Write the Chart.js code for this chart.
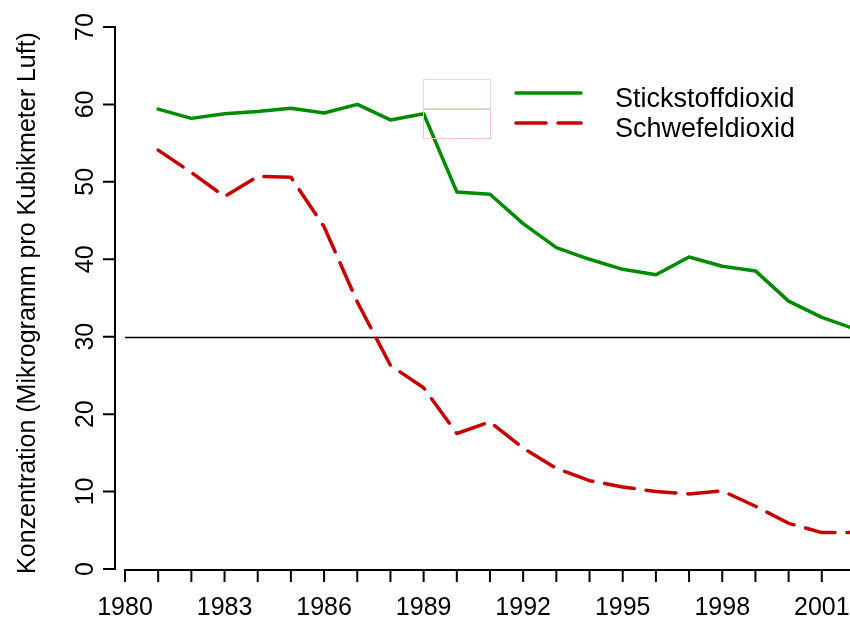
<!DOCTYPE html>
<html>
<head>
<meta charset="utf-8">
<script src="https://cdn.jsdelivr.net/npm/chart.js@4.4.1/dist/chart.umd.min.js"></script>
<style>
  html, body { margin: 0; padding: 0; background: #fff; }
  #wrap { width: 850px; height: 619px; position: relative; }
</style>
</head>
<body>
<div id="wrap"><canvas id="chart"></canvas></div>
<script>
const years = [1981, 1982, 1983, 1984, 1985, 1986, 1987, 1988, 1989, 1990, 1991,
               1992, 1993, 1994, 1995, 1996, 1997, 1998, 1999, 2000, 2001, 2002];
const no2 = [59.4, 58.2, 58.8, 59.1, 59.5, 58.9, 60.0, 58.0, 58.8, 48.7, 48.4,
             44.6, 41.5, 40.0, 38.7, 38.0, 40.3, 39.1, 38.5, 34.6, 32.5, 31.0];
const so2 = [54.1, 51.2, 48.1, 50.7, 50.6, 44.2, 34.5, 26.3, 23.4, 17.5, 19.0,
             15.6, 13.0, 11.4, 10.6, 10.0, 9.7, 10.1, 8.1, 5.9, 4.7, 4.7];
const seriesNames = ['Stickstoffdioxid', 'Schwefeldioxid'];
const yTicks = [0, 10, 20, 30, 40, 50, 60, 70];
const xTickYears = [1980, 1981, 1982, 1983, 1984, 1985, 1986, 1987, 1988, 1989, 1990, 1991,
                    1992, 1993, 1994, 1995, 1996, 1997, 1998, 1999, 2000, 2001, 2002];
const xLabels = [1980, 1983, 1986, 1989, 1992, 1995, 1998, 2001];
const refLine = 30;
const yTitle = 'Konzentration (Mikrogramm pro Kubikmeter Luft)';

const GREEN = '#008a00';
const RED = '#c80000';
const FONT = 'Arial, "Liberation Sans", sans-serif';

// Achsen im R-Stil, Referenzlinie und Legende
const rAxes = {
    id: 'rAxes',
    beforeDatasetsDraw(chart) {
        const ctx = chart.ctx;
        const y = chart.scales.y;
        const area = chart.chartArea;
        ctx.save();
        ctx.strokeStyle = '#000';
        ctx.lineWidth = 1.5;
        const py = Math.round(y.getPixelForValue(refLine)) + 0.5;
        ctx.beginPath();
        ctx.moveTo(area.left, py);
        ctx.lineTo(chart.width, py);
        ctx.stroke();
        ctx.restore();
    },
    afterDraw(chart) {
        const ctx = chart.ctx;
        const x = chart.scales.x, y = chart.scales.y;
        ctx.save();
        ctx.strokeStyle = '#000';
        ctx.fillStyle = '#000';
        ctx.lineWidth = 2;
        ctx.lineCap = 'butt';

        // y-Achse
        const ax = 115;
        ctx.beginPath();
        ctx.moveTo(ax, y.getPixelForValue(yTicks[0]));
        ctx.lineTo(ax, y.getPixelForValue(yTicks[yTicks.length - 1]));
        yTicks.forEach(v => {
            const p = y.getPixelForValue(v);
            ctx.moveTo(ax + 1, p);
            ctx.lineTo(ax - 12, p);
        });
        ctx.stroke();

        ctx.font = '25px ' + FONT;
        ctx.textAlign = 'center';
        ctx.textBaseline = 'middle';
        yTicks.forEach(v => {
            ctx.save();
            ctx.translate(86, y.getPixelForValue(v));
            ctx.rotate(-Math.PI / 2);
            ctx.fillText(String(v), 0, 0);
            ctx.restore();
        });

        // x-Achse
        const ay = y.getPixelForValue(0) + 1;
        ctx.beginPath();
        ctx.moveTo(x.getPixelForValue(xTickYears[0]), ay);
        ctx.lineTo(chart.width, ay);
        xTickYears.forEach(v => {
            const p = x.getPixelForValue(v);
            ctx.moveTo(p, ay - 1);
            ctx.lineTo(p, ay + 12);
        });
        ctx.stroke();

        ctx.textBaseline = 'alphabetic';
        xLabels.forEach(v => {
            ctx.fillText(String(v), x.getPixelForValue(v), 615);
        });

        // Achsentitel
        ctx.font = '25px ' + FONT;
        ctx.save();
        ctx.translate(28, 303);
        ctx.rotate(-Math.PI / 2);
        ctx.textBaseline = 'middle';
        ctx.fillText(yTitle, 0, 0);
        ctx.restore();

        // Legende
        ctx.lineWidth = 1;
        ctx.strokeStyle = '#cde6cd';
        ctx.strokeRect(423.5, 79.5, 67, 29);
        ctx.strokeStyle = '#f6c4c4';
        ctx.strokeRect(423.5, 109.5, 67, 29);

        ctx.lineCap = 'round';
        ctx.lineWidth = 3.5;
        ctx.strokeStyle = GREEN;
        ctx.beginPath();
        ctx.moveTo(516, 93);
        ctx.lineTo(581, 93);
        ctx.stroke();
        ctx.strokeStyle = RED;
        ctx.setLineDash([30, 12]);
        ctx.beginPath();
        ctx.moveTo(516, 123);
        ctx.lineTo(581, 123);
        ctx.stroke();
        ctx.setLineDash([]);

        ctx.font = '27px ' + FONT;
        ctx.textAlign = 'left';
        ctx.fillText(seriesNames[0], 615, 107);
        ctx.fillText(seriesNames[1], 615, 137);
        ctx.restore();
    }
};

new Chart(document.getElementById('chart'), {
    type: 'line',
    data: {
        datasets: [{
            label: seriesNames[0],
            data: years.map((yr, i) => ({ x: yr, y: no2[i] })),
            borderColor: GREEN,
            borderWidth: 3.5,
            borderCapStyle: 'round',
            borderJoinStyle: 'round',
            pointRadius: 0,
            tension: 0,
            fill: false
        }, {
            label: seriesNames[1],
            data: years.map((yr, i) => ({ x: yr, y: so2[i] })),
            borderColor: RED,
            borderWidth: 3.5,
            borderDash: [30, 12],
            borderCapStyle: 'round',
            borderJoinStyle: 'round',
            pointRadius: 0,
            tension: 0,
            fill: false
        }]
    },
    options: {
        responsive: true,
        maintainAspectRatio: false,
        animation: false,
        layout: { padding: { left: 125, right: 0, top: 27, bottom: 50 } },
        scales: {
            x: { type: 'linear', min: 1980, max: 2001.85, display: false },
            y: { min: 0, max: 70, display: false }
        },
        plugins: {
            legend: { display: false },
            tooltip: { enabled: false }
        }
    },
    plugins: [rAxes]
});
</script>
</body>
</html>
